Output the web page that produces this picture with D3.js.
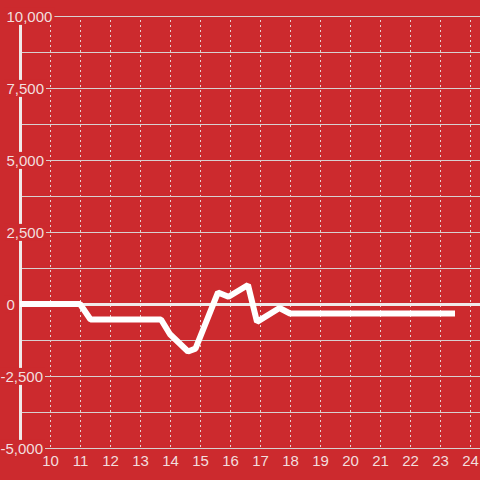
<!DOCTYPE html>
<html>
<head>
<meta charset="utf-8">
<script src="https://cdn.jsdelivr.net/npm/d3@7"></script>
<style>
  html, body { margin: 0; padding: 0; background: #cc2a2e; }
  svg { display: block; font-family: "Liberation Sans", Arial, sans-serif; }
</style>
</head>
<body>
<div id="chart"></div>
<script>
// series (hour of day vs value)
const hours = [9, 11, 11.35, 13.7, 14.0, 14.6, 14.85, 15.6, 15.95, 16.6, 16.9, 17.65, 18.0, 23.5];
const values = [0, 0, -540, -540, -1050, -1650, -1550, 400, 250, 660, -620, -140, -330, -330];

const xTicks = [10, 11, 12, 13, 14, 15, 16, 17, 18, 19, 20, 21, 22, 23, 24];
const yTicks = [-5000, -2500, 0, 2500, 5000, 7500, 10000];
const yMinorTicks = [-3750, -1250, 1250, 3750, 6250, 8750];

const width = 480, height = 480;
const bg = "#cc2a2e";
const fg = "#f2dede";

const svg = d3.select("#chart").append("svg")
  .attr("width", width)
  .attr("height", height);

svg.append("rect").attr("width", width).attr("height", height).attr("fill", bg);

const x = d3.scaleLinear().domain([9, 24]).range([20, 470]);
const y = d3.scaleLinear().domain([-5000, 10000]).range([448, 16]);

// vertical dashed grid
svg.append("g").selectAll("line")
  .data(xTicks)
  .join("line")
  .attr("x1", d => x(d) + 0.5).attr("x2", d => x(d) + 0.5)
  .attr("y1", y(10000) + 4).attr("y2", y(-5000))
  .attr("stroke", "#e6d0d0")
  .attr("stroke-width", 1)
  .attr("stroke-dasharray", "2,3");

// horizontal grid (major + minor)
svg.append("g").selectAll("line")
  .data(yTicks.concat(yMinorTicks))
  .join("line")
  .attr("x1", 20).attr("x2", width)
  .attr("y1", d => y(d) + 0.5).attr("y2", d => y(d) + 0.5)
  .attr("stroke", "#d8d0d0")
  .attr("stroke-width", 1);

// zero line
svg.append("line")
  .attr("x1", 19).attr("x2", width)
  .attr("y1", y(0) + 0.5).attr("y2", y(0) + 0.5)
  .attr("stroke", "#f0eaea")
  .attr("stroke-width", 3);

// left axis bar
svg.append("line")
  .attr("x1", 20.5).attr("x2", 20.5)
  .attr("y1", y(10000)).attr("y2", y(-5000))
  .attr("stroke", "#f0eaea")
  .attr("stroke-width", 3);

// y labels with background knock-out
const fmt = d => d3.format(",")(d).replace("\u2212", "-");
const yLab = svg.append("g").selectAll("g")
  .data(yTicks)
  .join("g")
  .attr("transform", d => `translate(${d < 0 ? 43 : 6.5},${y(d) + 0.5})`);

yLab.append("text")
  .attr("text-anchor", d => d < 0 ? "end" : "start")
  .attr("dy", "0.36em")
  .attr("font-size", 15)
  .attr("fill", fg)
  .text(fmt);

yLab.each(function () {
  const g = d3.select(this);
  const bb = g.select("text").node().getBBox();
  g.insert("rect", "text")
    .attr("x", bb.x - 2).attr("y", bb.y)
    .attr("width", bb.width + 4).attr("height", bb.height)
    .attr("fill", bg);
});

// x labels
svg.append("g").selectAll("text")
  .data(xTicks)
  .join("text")
  .attr("x", d => x(d) + 0.5)
  .attr("y", 466)
  .attr("text-anchor", "middle")
  .attr("font-size", 15)
  .attr("fill", fg)
  .text(d => d);

// data line
const line = d3.line()
  .x((d, i) => x(hours[i]))
  .y(d => y(d));

svg.append("path")
  .datum(values)
  .attr("fill", "none")
  .attr("stroke", "#ffffff")
  .attr("stroke-width", 6)
  .attr("stroke-linejoin", "bevel")
  .attr("d", line);
</script>
</body>
</html>
